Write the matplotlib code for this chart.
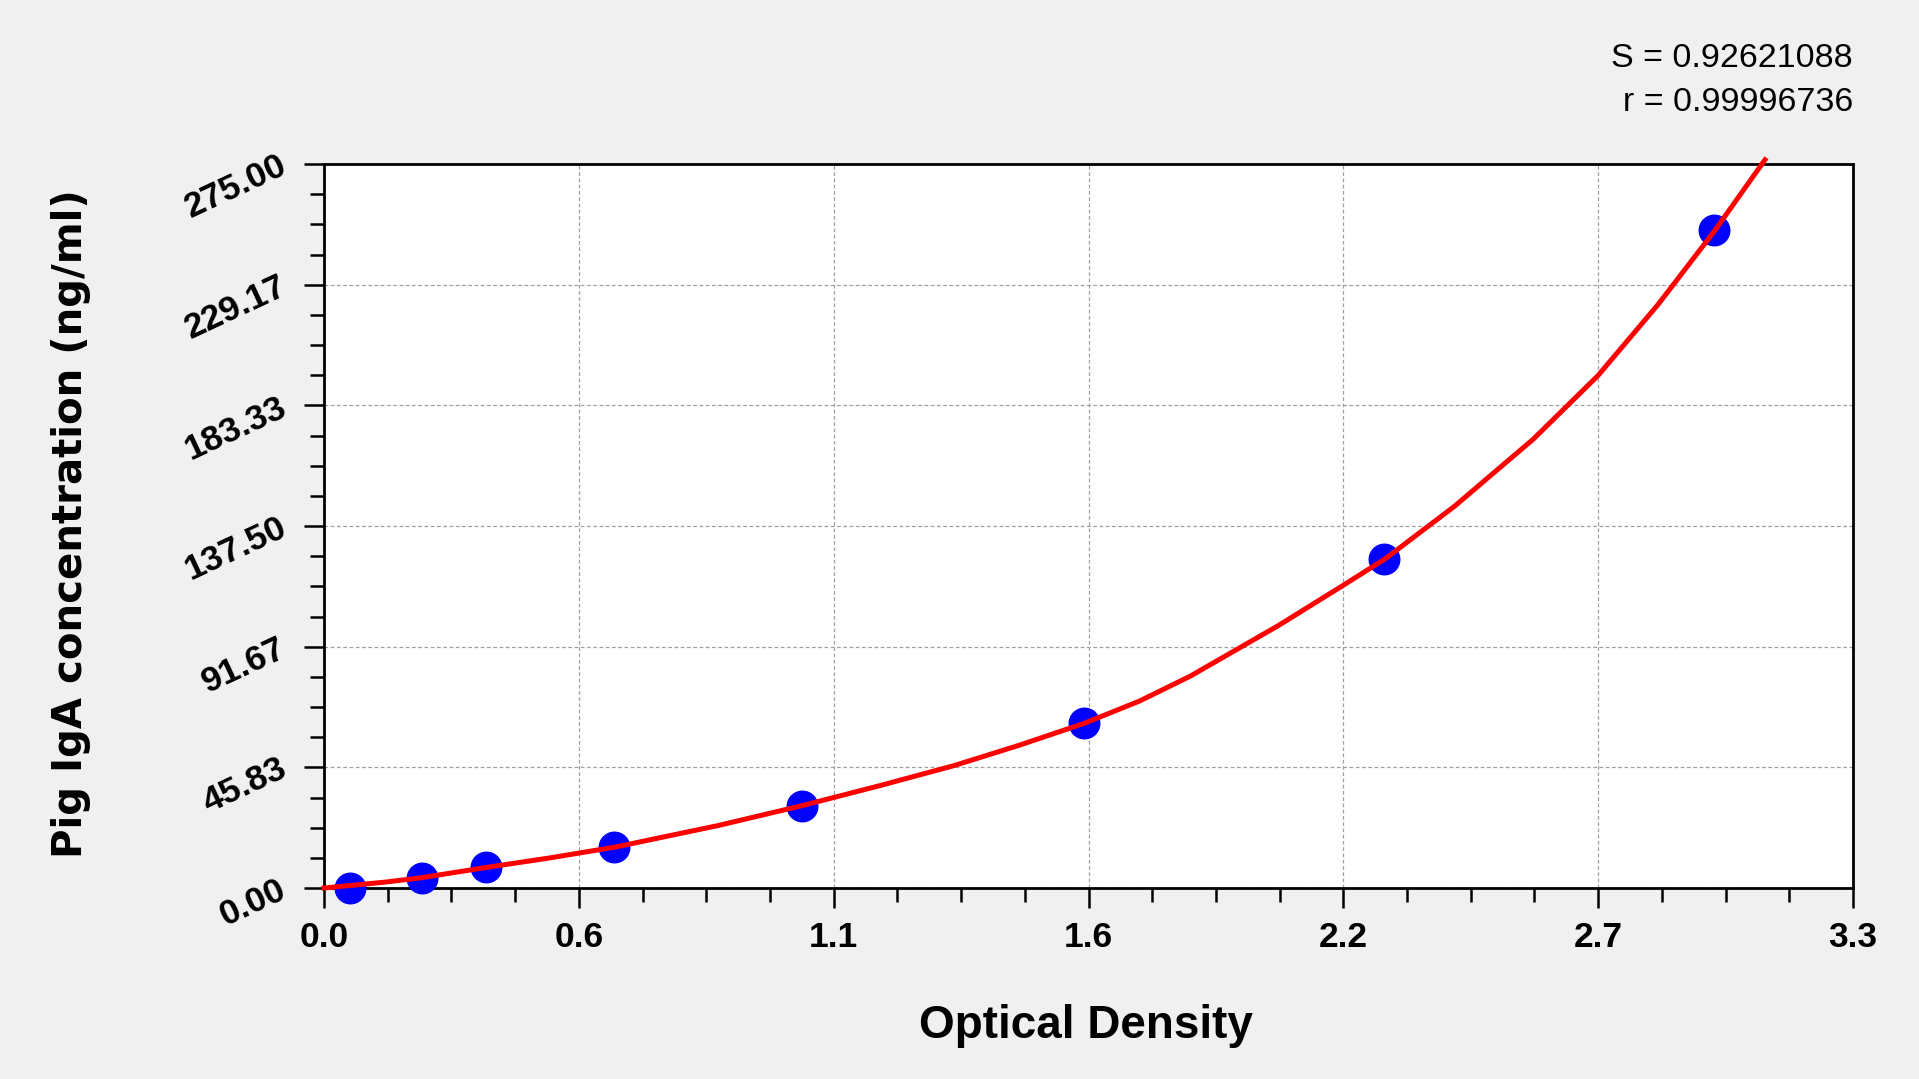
import matplotlib
matplotlib.use("Agg")
import matplotlib.pyplot as plt
from matplotlib.ticker import FixedLocator, MultipleLocator

# standards
od = [0.057, 0.211, 0.350, 0.625, 1.032, 1.640, 2.288, 3.001]
conc = [0.0, 3.91, 7.81, 15.63, 31.25, 62.5, 125.0, 250.0]

# fitted curve, sampled by eye from the plot
curve_od = [0.0, 0.13, 0.21, 0.35, 0.49, 0.63, 0.85, 1.03, 1.20, 1.36,
            1.50, 1.64, 1.76, 1.87, 2.06, 2.20, 2.29, 2.44, 2.61, 2.75,
            2.88, 3.00, 3.11]
curve_conc = [0.0, 2.2, 3.9, 7.8, 11.5, 15.6, 23.7, 31.2, 38.9, 46.5,
              54.2, 62.5, 71.0, 80.5, 99.7, 115.0, 125.0, 145.0, 170.5, 194.7,
              221.8, 249.3, 276.6]

x_ticks = [0.0, 0.55, 1.1, 1.65, 2.2, 2.75, 3.3]
x_labels = ["0.0", "0.6", "1.1", "1.6", "2.2", "2.7", "3.3"]
y_ticks = [0.0, 45.8333, 91.6667, 137.5, 183.3333, 229.1667, 275.0]
y_labels = ["0.00", "45.83", "91.67", "137.50", "183.33", "229.17", "275.00"]

s_text = "S = 0.92621088"
r_text = "r = 0.99996736"

W, H = 1919, 1079
fig = plt.figure(figsize=(W / 100, H / 100), dpi=100, facecolor="#f0f0f0")
ax = fig.add_axes([324 / W, 1 - 888 / H, (1853 - 324) / W, (888 - 164) / H])
ax.set_facecolor("white")

ax.plot(od, conc, "o", color="#0000ff", markersize=22, clip_on=False, zorder=3)
ax.plot(curve_od, curve_conc, "-", color="#ff0000", linewidth=3.6,
        clip_on=False, zorder=4)

ax.set_xlim(0, 3.3)
ax.set_ylim(0, 275)
ax.xaxis.set_major_locator(FixedLocator(x_ticks))
ax.yaxis.set_major_locator(FixedLocator(y_ticks))
ax.xaxis.set_minor_locator(MultipleLocator(0.1375))
ax.yaxis.set_minor_locator(MultipleLocator(275 / 24))
ax.set_xticklabels(x_labels, fontsize=25.5, fontweight="bold",
                   family="Liberation Sans")
ax.set_yticklabels(y_labels, fontsize=25.5, fontweight="bold",
                   family="Liberation Sans")

ax.tick_params(which="major", direction="out", length=14.5, width=1.8,
               color="black")
ax.tick_params(which="minor", direction="out", length=10, width=1.8,
               color="black")
ax.tick_params(axis="x", pad=9)
ax.tick_params(axis="y", pad=14)
for lab in ax.get_yticklabels():
    lab.set_rotation(25)
    lab.set_rotation_mode("anchor")
    lab.set_ha("right")
    lab.set_va("center")

for sp in ax.spines.values():
    sp.set_linewidth(2)
    sp.set_color("black")

ax.grid(True, which="major", color="#a0a0a0", linestyle=(0, (3, 2)),
        linewidth=0.9)
ax.set_axisbelow(True)

fig.text(1086 / W, 1 - 1026 / H, "Optical Density", fontsize=33,
         fontweight="bold", family="Liberation Sans", ha="center", va="center")
fig.text(71 / W, 1 - 524 / H, "Pig IgA concentration (ng/ml)", fontsize=29,
         fontweight="bold", family="DejaVu Sans", rotation=90,
         ha="center", va="center")

fig.text(1853 / W, 1 - 67 / H, s_text, fontsize=24.5, family="Liberation Sans",
         ha="right", va="baseline")
fig.text(1853 / W, 1 - 111 / H, r_text, fontsize=24.5, family="Liberation Sans",
         ha="right", va="baseline")

fig.savefig("out.png", dpi=100, facecolor=fig.get_facecolor())
